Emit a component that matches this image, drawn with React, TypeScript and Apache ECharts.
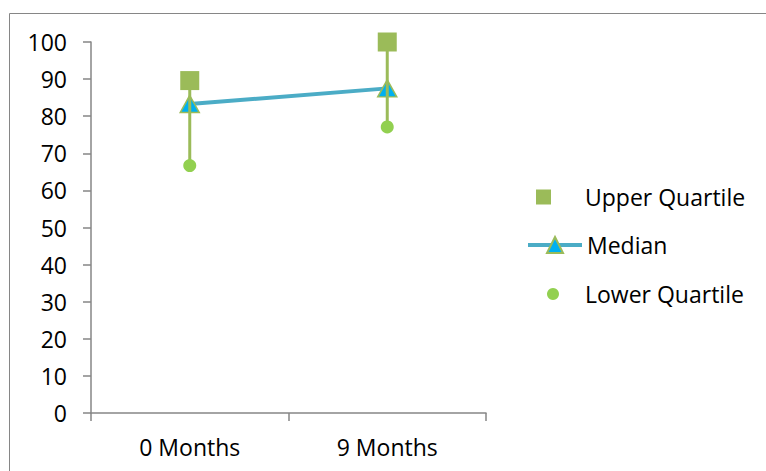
import React, { useEffect, useRef } from "react";
import * as echarts from "echarts";

// Time points on the x axis
const categories = ["0 Months", "9 Months"];
// Quartile summary per time point
const upperQuartile = [89.6, 100];
const median = [83.3, 87.5];
const lowerQuartile = [66.7, 77.1];

const FONT = "Open Sans";
const AXIS_GRAY = "#868686";
const FONT_SIZE = 23;

export default function App() {
  const ref = useRef<HTMLDivElement>(null);

  useEffect(() => {
    if (!ref.current) return;
    const chart = echarts.init(ref.current, undefined, { renderer: "svg" });

    const rangeData = categories.map((_, i) => [i, lowerQuartile[i], upperQuartile[i]]);
    const legendText = { fontSize: FONT_SIZE, lineHeight: 24, color: "#000", fontFamily: FONT };

    chart.setOption({
      animation: false,
      backgroundColor: "#ffffff",
      textStyle: { fontFamily: FONT },
      graphic: [
        {
          type: "rect",
          silent: true,
          z: -10,
          shape: { x: 9.5, y: 13.5, width: 800, height: 500 },
          style: { fill: "none", stroke: AXIS_GRAY, lineWidth: 1 },
        },
      ],
      grid: { left: 91, right: 280, top: 42, bottom: 58 },
      xAxis: {
        type: "category",
        data: categories,
        boundaryGap: true,
        axisLine: { show: true, lineStyle: { color: AXIS_GRAY, width: 1.5 } },
        axisTick: { show: true, length: 8, lineStyle: { color: AXIS_GRAY, width: 1.5 } },
        axisLabel: { color: "#000", fontSize: FONT_SIZE, fontFamily: FONT, margin: 22 },
        splitLine: { show: false },
      },
      yAxis: {
        type: "value",
        min: 0,
        max: 100,
        interval: 10,
        axisLine: { show: true, lineStyle: { color: AXIS_GRAY, width: 1.5 } },
        axisTick: { show: true, length: 8, lineStyle: { color: AXIS_GRAY, width: 1.5 } },
        axisLabel: { color: "#000", fontSize: FONT_SIZE, fontFamily: FONT, margin: 24 },
        splitLine: { show: false },
      },
      legend: [
        {
          data: ["Upper Quartile"],
          left: 536,
          top: 185,
          padding: 0,
          icon: "rect",
          itemWidth: 15,
          itemHeight: 15,
          itemStyle: { opacity: 1 },
          textStyle: { ...legendText, padding: [0, 0, 0, 29] },
        },
        {
          data: ["Median"],
          left: 526,
          top: 233,
          padding: 0,
          itemWidth: 54,
          itemHeight: 20,
          lineStyle: { width: 4, color: "#4BACC6" },
          textStyle: legendText,
        },
        {
          data: ["Lower Quartile"],
          left: 547,
          top: 282,
          padding: 0,
          icon: "circle",
          itemWidth: 12,
          itemHeight: 12,
          itemStyle: { opacity: 1 },
          textStyle: { ...legendText, padding: [0, 0, 0, 21] },
        },
      ],
      series: [
        {
          name: "Median",
          type: "line",
          data: median,
          symbol: "triangle",
          symbolSize: [19, 17],
          z: 2,
          lineStyle: { color: "#4BACC6", width: 4 },
          itemStyle: { color: "#00B0F0", borderColor: "#9BBB59", borderWidth: 1.5 },
        },
        {
          name: "Range",
          type: "custom",
          data: rangeData,
          z: 3,
          encode: { x: 0, y: [1, 2] },
          renderItem: (_params: any, api: any) => {
            const lo = api.coord([api.value(0), api.value(1)]);
            const hi = api.coord([api.value(0), api.value(2)]);
            return {
              type: "line",
              shape: { x1: lo[0], y1: lo[1], x2: hi[0], y2: hi[1] },
              style: { stroke: "#9BBB59", lineWidth: 3 },
            };
          },
        },
        {
          name: "Upper Quartile",
          type: "scatter",
          data: upperQuartile,
          symbol: "rect",
          symbolSize: 19,
          z: 4,
          itemStyle: { color: "#9BBB59", opacity: 1 },
        },
        {
          name: "Lower Quartile",
          type: "scatter",
          data: lowerQuartile,
          symbol: "circle",
          symbolSize: 13,
          z: 4,
          itemStyle: { color: "#92D050", opacity: 1 },
        },
      ],
    });

    return () => chart.dispose();
  }, []);

  return (
    <div
      ref={ref}
      style={{ position: "fixed", left: 0, top: 0, width: 766, height: 471 }}
    />
  );
}
